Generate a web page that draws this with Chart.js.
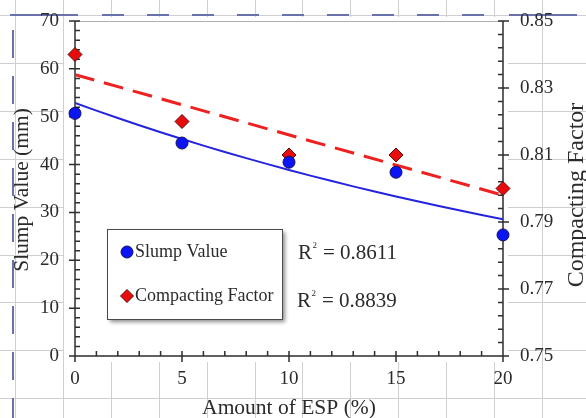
<!DOCTYPE html>
<html>
<head>
<meta charset="utf-8">
<script src="https://cdn.jsdelivr.net/npm/chart.js@4.4.1/dist/chart.umd.min.js"></script>
<style>
  html, body { margin: 0; padding: 0; background: #fff; }
</style>
</head>
<body>
<canvas id="chart" width="586" height="418"></canvas>
<script>
// values
var espAmount = [0, 5, 10, 15, 20];
var slumpValue = [50.7, 44.5, 40.5, 38.4, 25.3];
var compactingFactor = [0.84, 0.82, 0.81, 0.81, 0.80];
var slumpR2 = '0.8611';
var compactR2 = '0.8839';

var FONT = "'Liberation Serif', 'DejaVu Serif', serif";
var TEXT = '#2b2b2b';

// trendlines the way a spreadsheet fits them: exponential for slump, linear for CF
function linearFit(xs, ys) {
    var n = xs.length, mx = 0, my = 0, sxy = 0, sxx = 0;
    for (var i = 0; i < n; i++) { mx += xs[i] / n; my += ys[i] / n; }
    for (var j = 0; j < n; j++) {
        sxy += (xs[j] - mx) * (ys[j] - my);
        sxx += (xs[j] - mx) * (xs[j] - mx);
    }
    var b = sxy / sxx;
    return { a: my - b * mx, b: b };
}

var cfFit = linearFit(espAmount, compactingFactor);
var slumpFit = linearFit(espAmount, slumpValue.map(function(v) { return Math.log(v); }));

var trendSteps = [];
for (var s = 0; s <= 20; s++) trendSteps.push(s);

var slumpTrend = trendSteps.map(function(x) {
    return { x: x, y: Math.exp(slumpFit.a + slumpFit.b * x) };
});
var cfTrend = [espAmount[0], espAmount[espAmount.length - 1]].map(function(x) {
    return { x: x, y: cfFit.a + cfFit.b * x };
});

function pairs(xs, ys) {
    return xs.map(function(x, i) { return { x: x, y: ys[i] }; });
}

// spreadsheet cells, page-break lines and the white chart block behind the plot
var paperPlugin = {
    id: 'paper',
    beforeDraw: function(chart) {
        var ctx = chart.ctx;
        ctx.save();
        ctx.fillStyle = '#fff';
        ctx.fillRect(0, 0, chart.width, chart.height);

        ctx.strokeStyle = '#cfcfcf';
        ctx.lineWidth = 1;
        ctx.beginPath();
        for (var x = 15; x < chart.width; x += 47.9) {
            ctx.moveTo(Math.round(x) + 0.5, 0);
            ctx.lineTo(Math.round(x) + 0.5, chart.height);
        }
        for (var y = 15; y < chart.height; y += 47.9) {
            ctx.moveTo(0, Math.round(y) + 0.5);
            ctx.lineTo(chart.width, Math.round(y) + 0.5);
        }
        ctx.stroke();

        ctx.fillStyle = '#fff';
        ctx.fillRect(64, 17, 444, 345);

        ctx.strokeStyle = '#6a72ae';
        ctx.lineWidth = 2;
        ctx.beginPath();
        ctx.moveTo(10, 15);
        ctx.lineTo(78, 15);
        for (var dx = 102; dx < 500; dx += 45) {
            ctx.moveTo(dx, 15);
            ctx.lineTo(dx + 22, 15);
        }
        ctx.moveTo(509, 15);
        ctx.lineTo(577, 15);
        ctx.stroke();

        ctx.setLineDash([28, 18]);
        ctx.beginPath();
        ctx.moveTo(13, 30);
        ctx.lineTo(13, chart.height);
        ctx.stroke();
        ctx.restore();
    },
    beforeDatasetsDraw: function(chart) {
        var ctx = chart.ctx;
        var area = chart.chartArea;
        var sx = chart.scales.x, sy = chart.scales.y, sy1 = chart.scales.y1;
        var i, p;
        ctx.save();

        ctx.strokeStyle = '#b0b0b0';
        ctx.lineWidth = 1;
        ctx.beginPath();
        ctx.moveTo(area.left, area.top + 0.5);
        ctx.lineTo(area.right, area.top + 0.5);
        ctx.stroke();

        ctx.strokeStyle = '#2e2e2e';
        ctx.lineWidth = 1.5;
        ctx.beginPath();
        // left axis
        ctx.moveTo(area.left, area.top);
        ctx.lineTo(area.left, area.bottom);
        for (i = 0; i <= 35; i++) {
            p = sy.getPixelForValue(i * 2);
            ctx.moveTo(i % 5 === 0 ? area.left - 6 : area.left, p);
            ctx.lineTo(area.left + 5, p);
        }
        // right axis
        ctx.moveTo(area.right, area.top);
        ctx.lineTo(area.right, area.bottom);
        for (i = 0; i <= 25; i++) {
            p = sy1.getPixelForValue(0.75 + i * 0.004);
            ctx.moveTo(area.right - 5, p);
            ctx.lineTo(i % 5 === 0 ? area.right + 6 : area.right, p);
        }
        // bottom axis
        ctx.moveTo(area.left, area.bottom);
        ctx.lineTo(area.right, area.bottom);
        for (i = 0; i <= 20; i++) {
            p = sx.getPixelForValue(i);
            ctx.moveTo(p, area.bottom - 5);
            ctx.lineTo(p, i % 5 === 0 ? area.bottom + 6 : area.bottom);
        }
        ctx.stroke();

        // tick labels from the scales' own ticks
        ctx.fillStyle = TEXT;
        ctx.font = '19px ' + FONT;
        ctx.textBaseline = 'middle';
        ctx.textAlign = 'right';
        sy.ticks.forEach(function(t) {
            ctx.fillText(String(t.value), 59, sy.getPixelForValue(t.value));
        });
        ctx.textAlign = 'left';
        sy1.ticks.forEach(function(t) {
            ctx.fillText(t.value.toFixed(2), 520, sy1.getPixelForValue(t.value));
        });
        ctx.textAlign = 'center';
        sx.ticks.forEach(function(t) {
            ctx.fillText(String(t.value), sx.getPixelForValue(t.value), 379);
        });

        // axis titles
        ctx.font = '21.5px ' + FONT;
        ctx.textBaseline = 'alphabetic';
        ctx.fillText('Amount of ESP (%)', (area.left + area.right) / 2, 414);
        ctx.save();
        ctx.translate(28, 190);
        ctx.rotate(-Math.PI / 2);
        ctx.fillText('Slump Value (mm)', 0, 0);
        ctx.restore();
        ctx.save();
        ctx.font = '24px ' + FONT;
        ctx.translate(583, 195);
        ctx.rotate(-Math.PI / 2);
        ctx.fillText('Compacting Factor', 0, 0);
        ctx.restore();
        ctx.restore();
    },
    afterDraw: function(chart) {
        var ctx = chart.ctx;
        var sets = chart.data.datasets;
        ctx.save();

        // legend box with drop shadow
        ctx.shadowColor = 'rgba(0,0,0,0.45)';
        ctx.shadowBlur = 4;
        ctx.shadowOffsetX = 3;
        ctx.shadowOffsetY = 3;
        ctx.fillStyle = '#fff';
        ctx.fillRect(107, 229, 175, 90);
        ctx.shadowColor = 'transparent';
        ctx.strokeStyle = '#4a4a4a';
        ctx.lineWidth = 1;
        ctx.strokeRect(107.5, 229.5, 175, 90);

        ctx.fillStyle = sets[0].backgroundColor;
        ctx.strokeStyle = sets[0].borderColor;
        Chart.helpers.drawPoint(ctx, {
            pointStyle: sets[0].pointStyle, radius: 6, borderWidth: 1
        }, 127, 252);

        ctx.fillStyle = sets[1].backgroundColor;
        ctx.strokeStyle = sets[1].borderColor;
        Chart.helpers.drawPoint(ctx, {
            pointStyle: sets[1].pointStyle, radius: 6.5, borderWidth: 1
        }, 127, 296);

        ctx.fillStyle = TEXT;
        ctx.font = '18px ' + FONT;
        ctx.textAlign = 'left';
        ctx.textBaseline = 'middle';
        ctx.fillText(sets[0].label, 135, 252);
        ctx.fillText(sets[1].label, 135, 296);

        // R squared notes
        function r2(x, y, val) {
            ctx.font = '21px ' + FONT;
            ctx.textBaseline = 'alphabetic';
            ctx.fillText('R', x, y);
            var w = ctx.measureText('R').width;
            ctx.font = '9px ' + FONT;
            ctx.fillText('2', x + w + 0.5, y - 11);
            ctx.font = '21px ' + FONT;
            ctx.fillText('= ' + val, x + w + 11, y);
        }
        r2(298, 259, slumpR2);
        r2(297, 307, compactR2);
        ctx.restore();
    }
};

new Chart(document.getElementById('chart'), {
    type: 'line',
    data: {
        datasets: [
            {
                label: 'Slump Value',
                data: pairs(espAmount, slumpValue),
                yAxisID: 'y',
                showLine: false,
                pointStyle: 'circle',
                pointRadius: 6,
                backgroundColor: '#0a14f5',
                borderColor: '#14145a',
                borderWidth: 1,
                clip: false,
                order: 0
            },
            {
                label: 'Compacting Factor',
                data: pairs(espAmount, compactingFactor),
                yAxisID: 'y1',
                showLine: false,
                pointStyle: 'rectRot',
                pointRadius: 7,
                backgroundColor: '#e80c0c',
                borderColor: '#5a0a0a',
                borderWidth: 1,
                clip: false,
                order: 1
            },
            {
                label: 'Slump trend',
                data: slumpTrend,
                yAxisID: 'y',
                borderColor: '#2424e0',
                borderWidth: 2,
                pointRadius: 0,
                fill: false,
                order: 2
            },
            {
                label: 'CF trend',
                data: cfTrend,
                yAxisID: 'y1',
                borderColor: '#ee2020',
                borderWidth: 3,
                borderDash: [20, 10],
                pointRadius: 0,
                fill: false,
                order: 3
            }
        ]
    },
    options: {
        responsive: false,
        animation: false,
        devicePixelRatio: 1,
        layout: { padding: { top: 21, left: 0, right: 0, bottom: 0 } },
        plugins: {
            legend: { display: false },
            tooltip: { enabled: false }
        },
        scales: {
            x: {
                type: 'linear',
                min: 0,
                max: 20,
                grid: { display: false, drawTicks: false },
                border: { display: false },
                ticks: { stepSize: 5, display: false },
                afterFit: function(scale) { scale.height = 62; }
            },
            y: {
                position: 'left',
                min: 0,
                max: 70,
                grid: { display: false, drawTicks: false },
                border: { display: false },
                ticks: { stepSize: 10, display: false },
                afterFit: function(scale) { scale.width = 75; }
            },
            y1: {
                position: 'right',
                min: 0.75,
                max: 0.85,
                grid: { display: false, drawTicks: false },
                border: { display: false },
                ticks: { stepSize: 0.02, display: false },
                afterFit: function(scale) { scale.width = 83; }
            }
        }
    },
    plugins: [paperPlugin]
});
</script>
</body>
</html>
